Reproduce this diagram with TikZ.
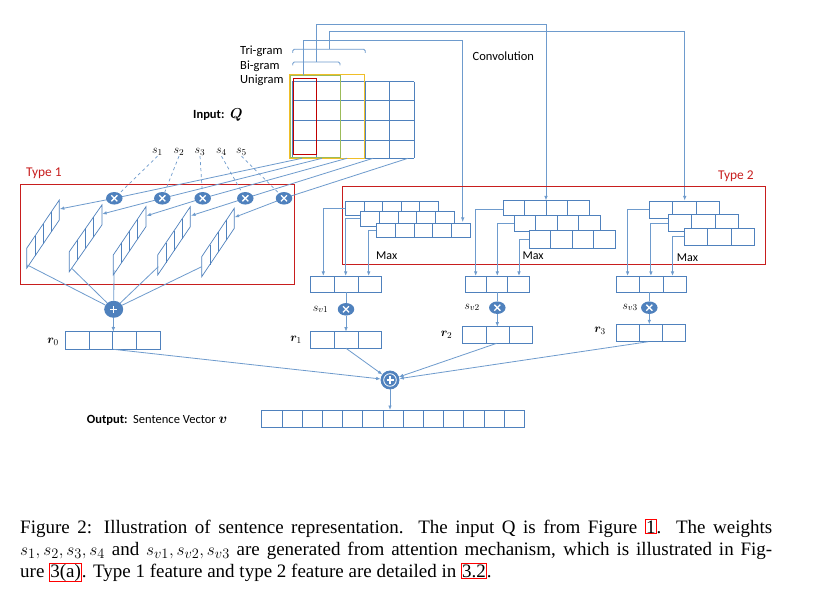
\documentclass[tikz,border=0pt]{standalone}
\usepackage{fontspec}
\setmainfont{Carlito}
\newfontfamily\capfont{Liberation Serif}
\usepackage{bm}
\usetikzlibrary{arrows.meta,shapes.geometric,calc}
\definecolor{gridblue}{RGB}{79,129,189}
\definecolor{lineblue}{RGB}{110,155,205}
\definecolor{circblue}{RGB}{79,129,189}
\definecolor{typered}{RGB}{200,30,30}
\definecolor{yell}{RGB}{240,190,40}
\definecolor{grn}{RGB}{155,187,89}
\definecolor{redq}{RGB}{192,0,0}
\newcommand{\cellrow}[5]{\foreach \ci in {1,...,#3}{\draw[cell] ({#1+(\ci-1)*#4},#2) rectangle ++(#4,#5);}}
\newcommand{\parallelcell}[3]{%
  \draw[pcell] (#1,#2) -- ++(32.6,-#3) -- ++(0,20) -- ++(-32.6,#3) -- cycle;
  \foreach \k in {1,2,3}{\draw[pcell] ({#1+\k*8.15},{#2-\k*#3/4}) -- ++(0,20);}}
\newcommand{\lnk}[1]{{\setlength\fboxsep{0.4pt}\setlength\fboxrule{0.7pt}\textcolor{red}{\fbox{\textcolor{black}{#1}}}}}
\begin{document}
\begin{tikzpicture}[x=1pt,y=-1pt,
  cell/.style={draw=gridblue,fill=white,line width=0.8pt},
  pcell/.style={draw=gridblue,line width=0.7pt},
  ln/.style={draw=lineblue,line width=0.8pt},
  arr/.style={-{Latex[length=4.5pt,width=3.5pt]}},
  lab/.style={font=\fontsize{12.5}{14}\selectfont,inner sep=0pt,anchor=west},
  redlab/.style={font=\fontsize{13.4}{15}\selectfont,inner sep=0pt,anchor=west,text=typered},
  mlab/.style={font=\fontsize{13}{15}\selectfont,inner sep=0.5pt},
  capt/.style={font=\capfont\fontsize{19}{22}\selectfont,inner sep=0pt,anchor=base west},
  mult/.style={ellipse,fill=circblue,minimum width=16.5pt,minimum height=12.5pt,inner sep=0pt,
    path picture={\draw[white,line width=1.3pt]
      ($(path picture bounding box.center)+(-3,-3)$) -- ++(6,6)
      ($(path picture bounding box.center)+(-3,3)$) -- ++(6,-6);}},
  plusone/.style={ellipse,fill=circblue,minimum width=19pt,minimum height=17pt,inner sep=0pt,
    path picture={\draw[white,line width=1.3pt]
      ($(path picture bounding box.center)+(-3.5,0)$) -- ++(7,0)
      ($(path picture bounding box.center)+(0,-3.5)$) -- ++(0,7);}},
  sumall/.style={circle,fill=circblue,draw=gridblue,line width=0.8pt,minimum size=18pt,inner sep=0pt,
    path picture={\draw[white,line width=0.8pt] (path picture bounding box.center) circle (6.3pt);
      \draw[white,line width=1.2pt]
      ($(path picture bounding box.center)+(-3.5,0)$) -- ++(7,0)
      ($(path picture bounding box.center)+(0,-3.5)$) -- ++(0,7);}}
]
\fill[white] (0,0) rectangle (827,593);
\useasboundingbox (0,0) rectangle (827,593);

% ---------- Input Q ----------
\foreach \i in {0,...,5}{\draw[gridblue,line width=0.8pt] ({292+\i*24.4},81.7) -- ({292+\i*24.4},158.3);}
\foreach \yy in {81.7,100.7,120.7,140,158.3}{\draw[gridblue,line width=0.8pt] (292,\yy) -- (414,\yy);}
\draw[grn,line width=0.9pt] (290.7,75.3) rectangle (340.3,157.3);
\draw[yell,line width=1.1pt] (289.3,74.3) rectangle (364.3,158.7);
\draw[redq,line width=1.2pt] (293.3,78.3) rectangle (316.3,154.3);

\node[lab] (tri) at (240,51.7) {Tri-gram};
\node[lab] (bi) at (240,66.7) {Bi-gram};
\node[lab] (uni) at (240,80.7) {Unigram};
\node[lab] (conv) at (472.5,56) {Convolution};
\node[lab] (inp) at (193,115) {\textbf{Input:}\ \ {\fontsize{14}{16}\selectfont$\bm{Q}$}};

% brackets
\draw[ln,rounded corners=1.5pt] (292.7,53) -- (292.7,49.3) -- (365.3,49.3) -- (365.3,53);
\draw[ln,rounded corners=1.5pt] (292.7,65.5) -- (292.7,62) -- (340,62) -- (340,65.5);
\coordinate (unitop) at (303.3,75);
\coordinate (bitop) at (316.3,62);
\coordinate (tritop) at (329,49.3);
\coordinate (g1in) at (462.7,222);
\coordinate (g2in) at (546,200.5);
\coordinate (g3in) at (684.7,200.5);
\draw[ln,arr] (unitop) |- (462.7,40.7) -- (g1in);
\draw[ln,arr] (bitop) |- (546,24) -- (g2in);
\draw[ln,arr] (tritop) |- (684.7,31.7) -- (g3in);

% ---------- Type 1 ----------
\draw[typered,line width=1pt] (20.7,185) rectangle (294.3,284.3);
\node[redlab] (type1) at (26,173.3) {Type 1};

\parallelcell{26.7}{248.3}{48.3}
\parallelcell{69.3}{251.7}{46.7}
\parallelcell{113.3}{255}{48.3}
\parallelcell{157.7}{255}{48.3}
\parallelcell{201.7}{256.7}{48.4}

\coordinate (q1) at (302,158.3);
\coordinate (q2) at (322,158.3);
\coordinate (q3) at (347,158.3);
\coordinate (q4) at (373,158.3);
\coordinate (q5) at (408,158.3);
\coordinate (m1c) at (114.3,198.3);
\coordinate (m2c) at (162.3,198.3);
\coordinate (m3c) at (202.7,198.3);
\coordinate (m4c) at (245.3,198.3);
\coordinate (m5c) at (284,198.3);
\coordinate (p1) at (59.8,209);
\coordinate (p2) at (102.2,214);
\coordinate (p3) at (146.5,215.8);
\coordinate (p4) at (191,215.7);
\coordinate (p5) at (234.6,217.3);
\foreach \i in {1,...,5}{\draw[ln,arr] (q\i) -- (m\i c) -- (p\i);}
\foreach \i in {1,...,5}{\node[mult] (m\i) at (m\i c) {};}

\node[mlab] (s1) at (157.5,152) {$s_1$};
\node[mlab] (s2) at (179,152) {$s_2$};
\node[mlab] (s3) at (200,152) {$s_3$};
\node[mlab] (s4) at (221.5,152) {$s_4$};
\node[mlab] (s5) at (241.5,152) {$s_5$};
\foreach \i in {1,...,5}{\draw[ln,dashed,line width=0.7pt] (s\i.south) -- (m\i);}

\node[plusone] (pl) at (113.7,309.3) {};
\coordinate (b1) at (27.3,265);
\coordinate (b2) at (71.7,268.3);
\coordinate (b3) at (114,270);
\coordinate (b4) at (158.3,266.7);
\coordinate (b5) at (201.7,266.7);
\foreach \i in {1,...,5}{\draw[ln] (b\i) -- (pl);}

% r0
\cellrow{65.3}{331.7}{4}{23.67}{17.6}
\coordinate (r0t) at (113.3,331.7);
\coordinate (r0b) at (113.3,349.3);
\draw[ln,arr] (pl) -- (r0t);
\node[mlab] (r0) at (53,342) {$\bm{r}_0$};

% ---------- Type 2 ----------
\draw[typered,line width=1pt] (342.3,186.7) rectangle (765.3,264.3);
\node[redlab] (type2) at (718,176) {Type 2};

% group 1
\cellrow{345.3}{201.3}{5}{18.6}{13.7}
\cellrow{360.3}{211.3}{5}{18.8}{14.7}
\cellrow{376.3}{223.3}{5}{18.8}{14}
% group 2
\cellrow{503.3}{200.7}{4}{21.5}{14.6}
\cellrow{514.3}{215.3}{4}{21.4}{16.4}
\cellrow{529.3}{230.3}{4}{21.5}{18}
% group 3
\cellrow{649.3}{201}{3}{23.3}{17}
\cellrow{668.3}{214}{3}{23.3}{17}
\cellrow{684.3}{228.7}{3}{23.3}{16.3}

\node[lab,font=\fontsize{12}{14}\selectfont] (max1) at (376,256) {Max};
\node[lab,font=\fontsize{12}{14}\selectfont] (max2) at (522.3,256) {Max};
\node[lab,font=\fontsize{12}{14}\selectfont] (max3) at (676.7,257.3) {Max};

% pooled vectors
\cellrow{310.7}{276}{3}{23.67}{16.3}
\cellrow{465}{276}{3}{21.43}{16.3}
\cellrow{616}{276}{3}{23.57}{16.3}

\draw[ln,arr,line width=1pt] (345.3,208.3) -| (323.3,276);
\draw[ln,arr,line width=1pt] (360.3,218.7) -| (345.7,276);
\draw[ln,arr,line width=1pt] (376.3,230.7) -| (368.7,276);
\draw[ln,arr,line width=1pt] (503.3,209.3) -| (475.7,276);
\draw[ln,arr,line width=1pt] (514.3,223.3) -| (497.3,276);
\draw[ln,arr,line width=1pt] (529.3,240) -| (519,276);
\draw[ln,arr,line width=1pt] (649.3,209.3) -| (627.6,276);
\draw[ln,arr,line width=1pt] (668.3,223.3) -| (650.9,276);
\draw[ln,arr,line width=1pt] (684.3,236.7) -| (672.5,276);

% weights and r vectors
\node[mult] (sv1) at (346,309.3) {};
\node[mult] (sv2) at (497.3,307.7) {};
\node[mult] (sv3) at (649.3,307.7) {};
\node[mlab] (sv1l) at (320.5,309.5) {$s_{v1}$};
\node[mlab] (sv2l) at (472,307.5) {$s_{v2}$};
\node[mlab] (sv3l) at (630,307.5) {$s_{v3}$};

\cellrow{310.7}{331.7}{3}{23.67}{16.6}
\cellrow{462.7}{326.7}{3}{23.2}{16.6}
\cellrow{616}{324.3}{3}{23.23}{17.4}
\node[mlab] (r1) at (296,340) {$\bm{r}_1$};
\node[mlab] (r2) at (446.5,335) {$\bm{r}_2$};
\node[mlab] (r3) at (600,330.5) {$\bm{r}_3$};

\coordinate (pv1b) at (346,292.3);
\coordinate (pv2b) at (497.3,292.3);
\coordinate (pv3b) at (649.3,292.3);
\coordinate (r1t) at (346,331.7);
\coordinate (r2t) at (497.3,326.7);
\coordinate (r3t) at (649.3,324.3);
\draw[ln] (pv1b) -- (sv1);
\draw[ln] (pv2b) -- (sv2);
\draw[ln] (pv3b) -- (sv3);
\draw[ln,arr] (sv1) -- (r1t);
\draw[ln,arr] (sv2) -- (r2t);
\draw[ln,arr] (sv3) -- (r3t);

\coordinate (r1b) at (346,348.3);
\coordinate (r2b) at (496.7,343.3);
\coordinate (r3b) at (648.3,341.7);

% ---------- sum and output ----------
\node[sumall] (sum) at (390,380) {};
\draw[ln,arr] (r0b) -- (sum);
\draw[ln,arr] (r1b) -- (sum);
\draw[ln,arr] (r2b) -- (sum);
\draw[ln,arr] (r3b) -- (sum);
\cellrow{261.7}{410}{13}{20.2}{17.7}
\coordinate (outt) at (390,410);
\draw[ln,arr] (sum) -- (outt);
\node[lab] (outl) at (86.7,420) {\textbf{Output:}\ \ Sentence Vector {\fontsize{13.5}{15}\selectfont$\bm{v}$}};

% ---------- caption ----------
\node[capt] (cap1) at (20,533) {\makebox[752pt][s]{Figure 2: Illustration of sentence representation. The input Q is from Figure \lnk{1}. The weights}};
\node[capt] (cap2) at (20,555) {\makebox[752pt][s]{$s_1, s_2, s_3, s_4$ and $s_{v1}, s_{v2}, s_{v3}$ are generated from attention mechanism, which is illustrated in Fig-}};
\node[capt] (cap3) at (20,577) {ure \lnk{3(a)}. Type 1 feature and type 2 feature are detailed in \lnk{3.2}.};
\end{tikzpicture}
\end{document}
